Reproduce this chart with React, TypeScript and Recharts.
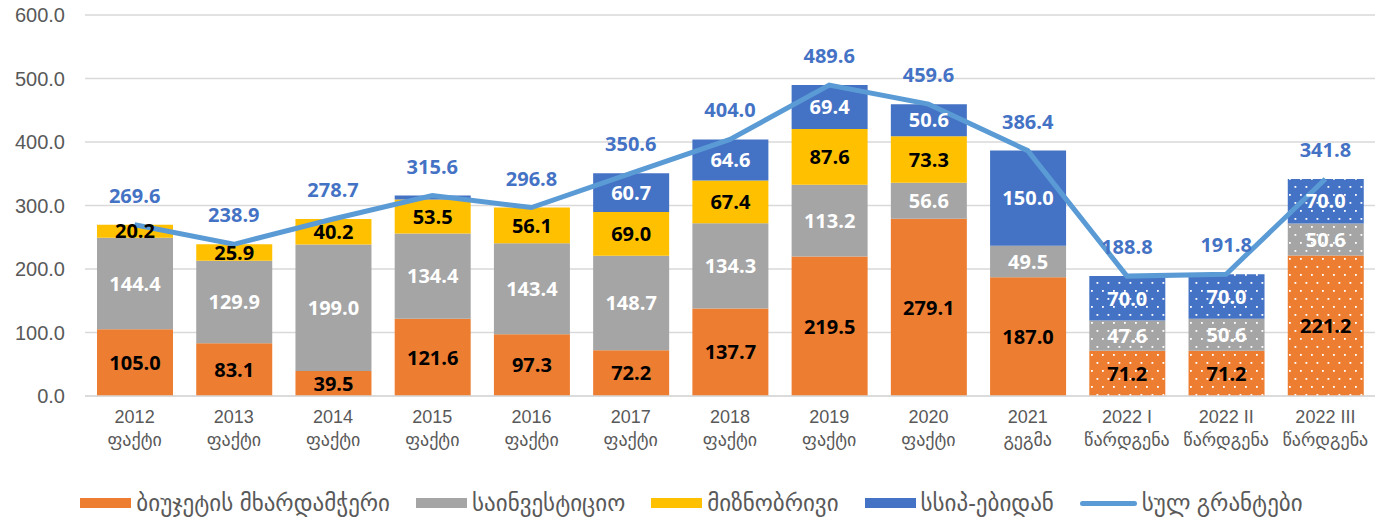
import {
  ComposedChart,
  Bar,
  Line,
  XAxis,
  YAxis,
  CartesianGrid,
  LabelList,
  Cell,
} from "recharts";

const years = ["2012", "2013", "2014", "2015", "2016", "2017", "2018", "2019", "2020", "2021", "2022 I", "2022 II", "2022 III"];
const stages = ["ფაქტი", "ფაქტი", "ფაქტი", "ფაქტი", "ფაქტი", "ფაქტი", "ფაქტი", "ფაქტი", "ფაქტი", "გეგმა", "წარდგენა", "წარდგენა", "წარდგენა"];

const budget = [105.0, 83.1, 39.5, 121.6, 97.3, 72.2, 137.7, 219.5, 279.1, 187.0, 71.2, 71.2, 221.2];
const investment = [144.4, 129.9, 199.0, 134.4, 143.4, 148.7, 134.3, 113.2, 56.6, 49.5, 47.6, 50.6, 50.6];
const targeted = [20.2, 25.9, 40.2, 53.5, 56.1, 69.0, 67.4, 87.6, 73.3, 0, 0, 0, 0];
const lepl = [0, 0, 0, 6.1, 0, 60.7, 64.6, 69.4, 50.6, 150.0, 70.0, 70.0, 70.0];
const totals = [269.6, 238.9, 278.7, 315.6, 296.8, 350.6, 404.0, 489.6, 459.6, 386.4, 188.8, 191.8, 341.8];

const yTicks = [0, 100, 200, 300, 400, 500, 600];

const names = {
  budget: "ბიუჯეტის მხარდამჭერი",
  investment: "საინვესტიციო",
  targeted: "მიზნობრივი",
  lepl: "სსიპ-ებიდან",
  total: "სულ გრანტები",
};

const COLORS = {
  budget: "#ED7D31",
  investment: "#A5A5A5",
  targeted: "#FFC000",
  lepl: "#4472C4",
  total: "#5B9BD5",
};

// the last three bars (submissions) are dotted
const DOTTED_FROM = 10;

const data = years.map((y, i) => ({
  year: y,
  budget: budget[i],
  investment: investment[i],
  targeted: targeted[i],
  lepl: lepl[i],
  total: totals[i],
}));

const FONT = '"Liberation Sans", "DejaVu Sans", sans-serif';
const LABEL_FONT = '"Open Sans", "DejaVu Sans", sans-serif';

const segLabel = (color: string) => (props: any) => {
  const { x, y, width, height, value } = props;
  if (!value || value < 10) return null;
  return (
    <text
      x={x + width / 2}
      y={y + height / 2}
      dy="0.36em"
      textAnchor="middle"
      fill={color}
      fontSize={20}
      fontWeight={700}
      fontFamily={LABEL_FONT}
    >
      {Number(value).toFixed(1)}
    </text>
  );
};

function XTick({ x, y, payload, index }: any) {
  return (
    <g transform={`translate(${x},${y})`}>
      <text textAnchor="middle" fill="#595959" fontSize={18} fontFamily={FONT}>
        <tspan x={0} dy={19}>
          {payload.value}
        </tspan>
        <tspan x={0} dy={23}>
          {stages[index]}
        </tspan>
      </text>
    </g>
  );
}

function Dots({ id, color }: { id: string; color: string }) {
  return (
    <pattern id={id} width={11} height={16} patternUnits="userSpaceOnUse">
      <rect width={11} height={16} fill={color} />
      <rect x={2} y={2} width={1.8} height={1.8} fill="#fff" />
      <rect x={7.5} y={10} width={1.8} height={1.8} fill="#fff" />
    </pattern>
  );
}

function LegendRow() {
  const items = [
    { key: "budget", kind: "rect" },
    { key: "investment", kind: "rect" },
    { key: "targeted", kind: "rect" },
    { key: "lepl", kind: "rect" },
    { key: "total", kind: "line" },
  ] as const;
  return (
    <div
      style={{
        position: "absolute",
        top: 488,
        left: 0,
        width: 1383,
        display: "flex",
        justifyContent: "center",
        gap: 26,
        fontFamily: FONT,
        fontSize: 23,
        color: "#595959",
        lineHeight: "30px",
      }}
    >
      {items.map((it) => (
        <div key={it.key} style={{ display: "flex", alignItems: "center", gap: 5 }}>
          {it.kind === "rect" ? (
            <span style={{ width: 51, height: 10, background: COLORS[it.key] }} />
          ) : (
            <span
              style={{ width: 57, height: 5, borderRadius: 3, background: COLORS.total }}
            />
          )}
          <span>{names[it.key]}</span>
        </div>
      ))}
    </div>
  );
}

export default function App() {
  return (
    <div
      style={{
        position: "absolute",
        left: 0,
        top: 0,
        width: 1383,
        height: 517,
        background: "#fff",
      }}
    >
      <ComposedChart
        width={1383}
        height={460}
        data={data}
        margin={{ top: 15, right: 8, left: 0, bottom: 0 }}
      >
        <defs>
          <Dots id="dot-budget" color={COLORS.budget} />
          <Dots id="dot-investment" color={COLORS.investment} />
          <Dots id="dot-lepl" color={COLORS.lepl} />
        </defs>
        <CartesianGrid vertical={false} stroke="#D9D9D9" strokeWidth={1.5} />
        <XAxis
          dataKey="year"
          height={64}
          tickLine={false}
          axisLine={{ stroke: "#D9D9D9", strokeWidth: 1.5 }}
          tick={<XTick />}
          interval={0}
        />
        <YAxis
          width={85}
          domain={[0, 600]}
          ticks={yTicks}
          axisLine={false}
          tickLine={false}
          tickMargin={14}
          tickFormatter={(v: number) => v.toFixed(1)}
          tick={{ fill: "#595959", fontSize: 20, fontFamily: FONT }}
        />
        <Bar dataKey="budget" name={names.budget} stackId="a" barSize={76} fill={COLORS.budget} isAnimationActive={false}>
          {data.map((_, i) => (
            <Cell key={i} fill={i >= DOTTED_FROM ? "url(#dot-budget)" : COLORS.budget} />
          ))}
          <LabelList dataKey="budget" content={segLabel("#000")} />
        </Bar>
        <Bar dataKey="investment" name={names.investment} stackId="a" barSize={76} fill={COLORS.investment} isAnimationActive={false}>
          {data.map((_, i) => (
            <Cell key={i} fill={i >= DOTTED_FROM ? "url(#dot-investment)" : COLORS.investment} />
          ))}
          <LabelList dataKey="investment" content={segLabel("#fff")} />
        </Bar>
        <Bar dataKey="targeted" name={names.targeted} stackId="a" barSize={76} fill={COLORS.targeted} isAnimationActive={false}>
          <LabelList dataKey="targeted" content={segLabel("#000")} />
        </Bar>
        <Bar dataKey="lepl" name={names.lepl} stackId="a" barSize={76} fill={COLORS.lepl} isAnimationActive={false}>
          {data.map((_, i) => (
            <Cell key={i} fill={i >= DOTTED_FROM ? "url(#dot-lepl)" : COLORS.lepl} />
          ))}
          <LabelList dataKey="lepl" content={segLabel("#fff")} />
        </Bar>
        <Line
          type="linear"
          dataKey="total"
          name={names.total}
          stroke={COLORS.total}
          strokeWidth={5}
          dot={false}
          activeDot={false}
          isAnimationActive={false}
        >
          <LabelList
            dataKey="total"
            position="top"
            offset={22}
            fill="#4472C4"
            fontSize={20}
            fontWeight={700}
            fontFamily={LABEL_FONT}
            formatter={(v: any) => Number(v).toFixed(1)}
          />
        </Line>
      </ComposedChart>
      <LegendRow />
    </div>
  );
}
